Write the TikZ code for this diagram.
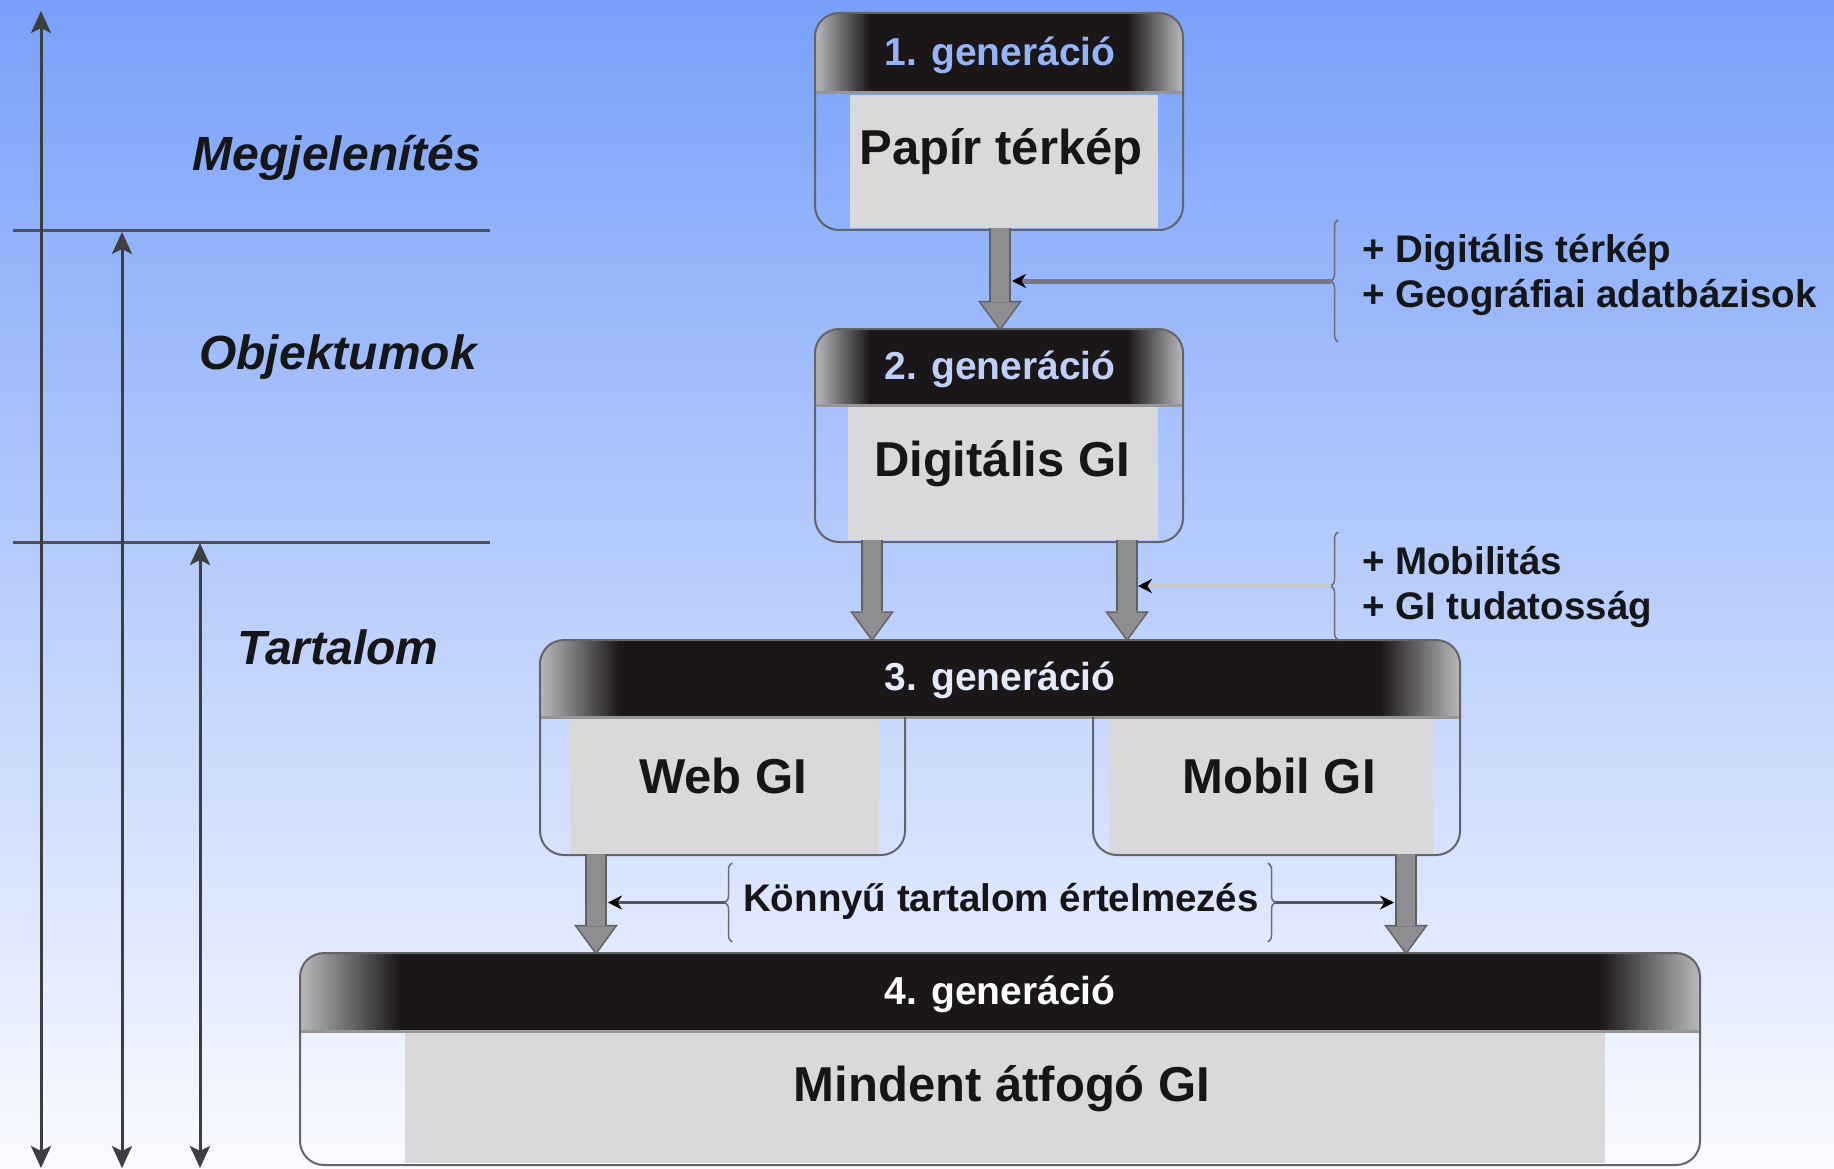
\documentclass[tikz,border=0pt]{standalone}
\usepackage{fontspec}
\setmainfont{Liberation Sans}
\usetikzlibrary{arrows.meta,decorations.pathreplacing}
\definecolor{bgtop}{RGB}{120,160,250}
\definecolor{bgbot}{RGB}{250,251,255}
\definecolor{hdrblack}{RGB}{27,23,25}
\definecolor{hdredge}{RGB}{185,185,188}
\definecolor{bodygray}{RGB}{217,217,219}
\definecolor{framegray}{RGB}{100,100,104}
\definecolor{seamgray}{RGB}{150,150,152}
\definecolor{axisgray}{RGB}{62,62,64}
\definecolor{arrowfill}{RGB}{142,142,144}
\definecolor{arrowedge}{RGB}{96,96,98}
\definecolor{toneA}{RGB}{150,180,250}
\definecolor{toneB}{RGB}{190,208,250}
\definecolor{toneC}{RGB}{228,234,252}
\definecolor{toneD}{RGB}{255,255,255}
\definecolor{lineA}{RGB}{120,120,122}
\definecolor{lineB}{RGB}{200,200,202}
\definecolor{lineC}{RGB}{85,85,88}
\definecolor{bracegray}{RGB}{110,110,112}
\definecolor{inktext}{RGB}{22,22,24}

\newcommand\hdrfill[5]{% x1 x2 ytop ybot gradient-width
  \begin{scope}
    \clip (#1,#3) rectangle (#2,#4);
    \clip[rounded corners=24pt] (#1,#3) rectangle (#2,{#4+60});
    \fill[hdrblack] (#1,#3) rectangle (#2,#4);
    \shade[left color=hdredge, right color=hdrblack] (#1,#3) rectangle ({#1+#5},#4);
    \shade[left color=hdrblack, right color=hdredge] ({#2-#5},#3) rectangle (#2,#4);
  \end{scope}
  \draw[seamgray, line width=3pt] (#1,#4) -- (#2,#4);
}

\begin{document}
\begin{tikzpicture}[x=1pt,y=-1pt,
  gentitle/.style={font=\fontsize{39}{41}\selectfont\bfseries, inner sep=0pt},
  bodyrect/.style={fill=bodygray, draw=none, inner sep=0pt},
  bodytext/.style={font=\fontsize{49}{51}\selectfont\bfseries, text=inktext, inner sep=0pt},
  sidetext/.style={font=\fontsize{48}{50}\selectfont\bfseries\itshape, text=inktext, inner sep=0pt},
  anntext/.style={font=\fontsize{38.5}{45}\selectfont\bfseries, text=inktext, align=left, inner sep=0pt},
  frame/.style={draw=framegray, line width=2pt, rounded corners=24pt},
  axisline/.style={draw=axisgray, line width=3pt, >={Stealth[length=22pt,width=20pt,inset=5pt]}},
  sepline/.style={draw=axisgray!90, line width=3pt},
  blkout/.style={draw=arrowedge, line width=22pt, -{Triangle[length=30pt,width=44pt,line width=0pt]}},
  blkin/.style={draw=arrowfill, line width=18pt, shorten >=2.5pt, -{Triangle[length=26pt,width=38pt,line width=0pt]}},
  brc/.style={decorate, decoration={brace, amplitude=7pt}, draw=bracegray, line width=1.5pt},
  lnA/.style={draw=lineA, line width=5pt, -{Stealth[length=14pt,width=14pt,color=black]}},
  lnB/.style={draw=lineB, line width=4pt, -{Stealth[length=14pt,width=14pt,color=black]}},
  lnC/.style={draw=lineC, line width=3.5pt, -{Stealth[length=14pt,width=14pt,color=black]}}
]
\useasboundingbox (0,0) rectangle (1834,1169);
\shade[top color=bgtop, bottom color=bgbot] (0,0) rectangle (1834,1169);

% ---- left scale ----
\coordinate (ax1t) at (41,11);   \coordinate (ax1b) at (41,1168);
\coordinate (ax2t) at (122,232); \coordinate (ax2b) at (122,1168);
\coordinate (ax3t) at (200,543); \coordinate (ax3b) at (200,1168);
\coordinate (hl1l) at (13,231);  \coordinate (hl1r) at (490,231);
\coordinate (hl2l) at (13,542);  \coordinate (hl2r) at (490,542);
\draw[sepline] (hl1l) -- (hl1r);
\draw[sepline] (hl2l) -- (hl2r);
\draw[axisline,<->] (ax1t) -- (ax1b);
\draw[axisline,<->] (ax2t) -- (ax2b);
\draw[axisline,<->] (ax3t) -- (ax3b);
\node[sidetext] (s1) at (337,158) {Megjelenítés};
\node[sidetext] (s2) at (338,357) {Objektumok};
\node[sidetext] (s3) at (338,647) {Tartalom};

% ---- box 1 ----
\hdrfill{815}{1183}{13}{93}{55}
\node[bodyrect, minimum width=308pt, minimum height=133pt] (b1) at (1004,161.5) {};
\node[gentitle, text=toneA, minimum width=368pt, minimum height=80pt] (h1) at (1000,55) {1. generáció};
\node[bodytext] (l1) at (1001,152) {Papír térkép};
\draw[frame] (815,13) rectangle (1183,230);

% ---- box 2 ----
\hdrfill{815}{1183}{329}{405}{55}
\node[bodyrect, minimum width=310pt, minimum height=133pt] (b2) at (1003,473.5) {};
\node[gentitle, text=toneB, minimum width=368pt, minimum height=76pt] (h2) at (1000,369) {2. generáció};
\node[bodytext] (l2) at (1002,464) {Digitális GI};
\draw[frame] (815,329) rectangle (1183,542);

% ---- box 3 ----
\hdrfill{540}{1460}{640}{717}{80}
\node[bodyrect, minimum width=309pt, minimum height=135pt] (bw) at (724.5,786.5) {};
\node[bodyrect, minimum width=324pt, minimum height=135pt] (bm) at (1271,786.5) {};
\node[gentitle, text=toneC, minimum width=920pt, minimum height=77pt] (h3) at (1000,680) {3. generáció};
\node[bodytext] (lw) at (723,776) {Web GI};
\node[bodytext] (lm) at (1279,776) {Mobil GI};
\draw[frame] (540,717) -- (540,640) -- (1460,640) -- (1460,717);
\draw[frame] (540,717) -- (540,855) -- (905,855) -- (905,717);
\draw[frame] (1093,717) -- (1093,855) -- (1460,855) -- (1460,717);

% ---- box 4 ----
\hdrfill{300}{1700}{953}{1031}{100}
\node[bodyrect, minimum width=1200pt, minimum height=130pt] (b4) at (1005,1098) {};
\node[gentitle, text=toneD, minimum width=1400pt, minimum height=78pt] (h4) at (1000,994) {4. generáció};
\node[bodytext] (l4) at (1002,1089) {Mindent átfogó GI};
\draw[frame] (300,953) rectangle (1700,1165);

% ---- block arrows ----
\foreach \s in {blkout,blkin}{
  \draw[\s] (h1.center |- b1.south) -- (h2.north);
  \draw[\s] ([xshift=-131pt]b2.south) -- ([xshift=-128pt]h3.north);
  \draw[\s] ([xshift=124pt]b2.south) -- ([xshift=127pt]h3.north);
  \draw[\s] ([xshift=-128.5pt]bw.south) -- ([xshift=-404pt]h4.north);
  \draw[\s] ([xshift=135pt]bm.south) -- ([xshift=406pt]h4.north);
}

% ---- annotations ----
\node[anntext, anchor=west] (n1) at (1362,275) {+ Digitális térkép\\+ Geográfiai adatbázisok};
\node[anntext, anchor=west] (n2) at (1362,587) {+ Mobilitás\\+ GI tudatosság};
\node[anntext] (n3) at (1001,901) {Könnyű tartalom értelmezés};

\coordinate (br1b) at (1338,342); \coordinate (br1t) at (1338,220);
\coordinate (br2b) at (1338,640); \coordinate (br2t) at (1338,532);
\coordinate (br3lb) at (732,942); \coordinate (br3lt) at (732,863);
\coordinate (br3rt) at (1268,863); \coordinate (br3rb) at (1268,942);
\draw[brc] (br1b) -- (br1t);
\draw[brc] (br2b) -- (br2t);
\draw[brc] (br3lb) -- (br3lt);
\draw[brc] (br3rt) -- (br3rb);

\coordinate (br1m) at (1331,281); \coordinate (sh1) at (1012,281);
\coordinate (br2m) at (1331,586); \coordinate (sh2) at (1138,586);
\coordinate (br3l) at (725,902.5); \coordinate (sh3l) at (608,902.5);
\coordinate (br3r) at (1275,902.5); \coordinate (sh3r) at (1394,902.5);
\draw[lnA] (br1m) -- (sh1);
\draw[lnB] (br2m) -- (sh2);
\draw[lnC] (br3l) -- (sh3l);
\draw[lnC] (br3r) -- (sh3r);
\end{tikzpicture}
\end{document}
